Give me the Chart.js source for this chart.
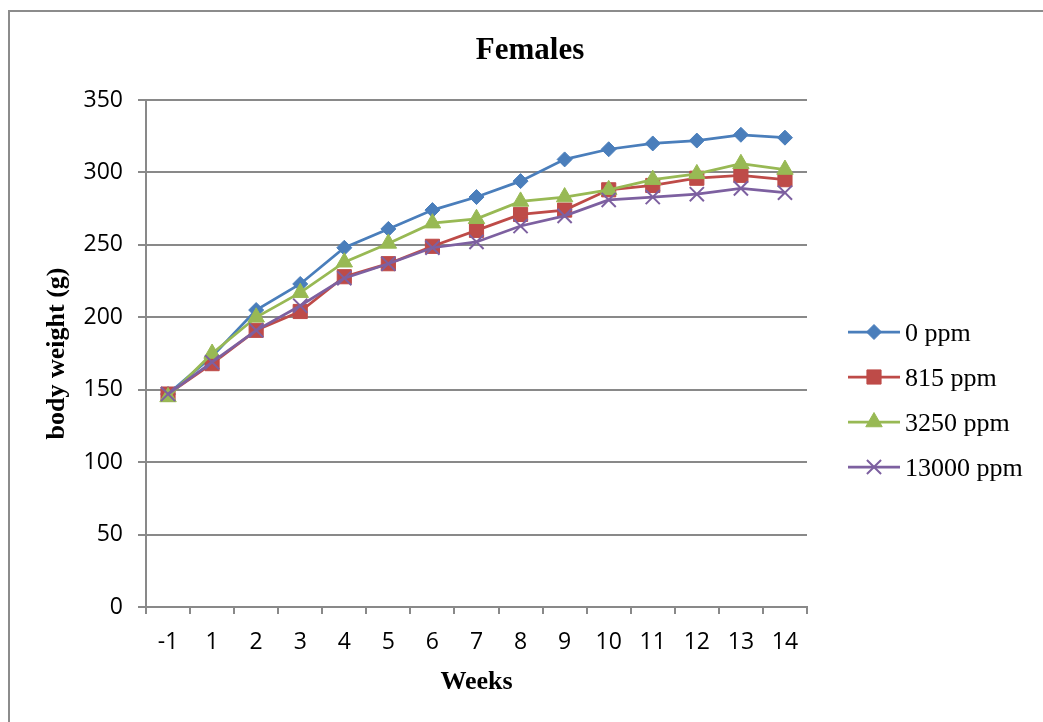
<!DOCTYPE html>
<html>
<head>
<meta charset="utf-8">
<script src="https://cdn.jsdelivr.net/npm/chart.js@4/dist/chart.umd.min.js"></script>
<style>
html,body{margin:0;padding:0;background:#fff;overflow:hidden;}
#wrap{position:absolute;left:0;top:0;width:1043px;height:722px;}
</style>
</head>
<body>
<div id="wrap"><canvas id="c" width="1043" height="722"></canvas></div>
<script>
const weeks = ['-1','1','2','3','4','5','6','7','8','9','10','11','12','13','14'];
const ppm0 = [147, 173, 205, 223, 248, 261, 274, 283, 294, 309, 316, 320, 322, 326, 324];
const ppm815 = [147, 168, 191, 204, 228, 237, 249, 260, 271, 274, 288, 291, 296, 298, 295];
const ppm3250 = [145, 175, 200, 217, 238, 251, 265, 268, 280, 283, 288, 295, 299, 306, 302];
const ppm13000 = [147, 169, 191, 208, 227, 237, 248, 252, 263, 270, 281, 283, 285, 289, 286];
const seriesNames = ['0 ppm', '815 ppm', '3250 ppm', '13000 ppm'];
const yTicks = [0, 50, 100, 150, 200, 250, 300, 350];
const chartTitle = 'Females';
const xTitle = 'Weeks';
const yTitle = 'body weight (g)';

const colors = ['#4a7ebb', '#be4b48', '#98b954', '#7d60a0'];
const styles = [
  {pointStyle:'rectRot', radius:7.5, borderWidth:1},
  {pointStyle:'rect', radius:10, borderWidth:1},
  {pointStyle:'triangle', radius:9.5, borderWidth:1},
  {pointStyle:'crossRot', radius:10, borderWidth:2}
];
const values = [ppm0, ppm815, ppm3250, ppm13000];
const GRID = '#898989';
const serif = '"Liberation Serif", "Times New Roman", serif';
const sans = '"Open Sans", "Noto Sans", sans-serif';

const datasets = values.map((v, i) => ({
  label: seriesNames[i],
  data: v,
  borderColor: colors[i],
  backgroundColor: colors[i],
  borderWidth: 2.75,
  pointStyle: styles[i].pointStyle,
  pointRadius: styles[i].radius,
  pointHoverRadius: styles[i].radius,
  pointBorderWidth: styles[i].borderWidth,
  pointBorderColor: colors[i],
  pointBackgroundColor: colors[i],
  tension: 0,
  order: 4 - i
}));

const framePlugin = {
  id: 'frame',
  beforeDraw(chart) {
    const ctx = chart.ctx;
    ctx.save();
    ctx.strokeStyle = '#8c8c8c';
    ctx.lineWidth = 2;
    ctx.beginPath();
    ctx.moveTo(9, 722);
    ctx.lineTo(9, 11);
    ctx.lineTo(1043, 11);
    ctx.stroke();
    ctx.restore();
  },
  afterDraw(chart) {
    const ctx = chart.ctx;
    ctx.save();
    ctx.fillStyle = '#000';
    ctx.font = 'bold 31px ' + serif;
    ctx.textAlign = 'center';
    ctx.textBaseline = 'alphabetic';
    ctx.fillText(chartTitle, 530, 59);
    const ys = [332, 377, 422, 467];
    chart.data.datasets.forEach((ds, i) => {
      const y = ys[i];
      ctx.strokeStyle = ds.borderColor;
      ctx.lineWidth = 2.75;
      ctx.beginPath();
      ctx.moveTo(848, y);
      ctx.lineTo(900, y);
      ctx.stroke();
      ctx.fillStyle = ds.pointBackgroundColor;
      ctx.strokeStyle = ds.pointBorderColor;
      ctx.lineWidth = ds.pointBorderWidth;
      Chart.helpers.drawPoint(ctx, {pointStyle: ds.pointStyle, radius: ds.pointRadius, rotation: 0, borderWidth: ds.pointBorderWidth}, 874, y);
      ctx.fillStyle = '#000';
      ctx.font = '26px ' + serif;
      ctx.textAlign = 'left';
      ctx.textBaseline = 'alphabetic';
      ctx.fillText(ds.label, 905, y + 9);
    });
    ctx.restore();
  }
};

new Chart(document.getElementById('c'), {
  type: 'line',
  data: { labels: weeks, datasets },
  options: {
    responsive: false,
    animation: false,
    devicePixelRatio: 1,
    layout: { padding: { top: 100, right: 236, left: 0, bottom: 0 } },
    plugins: { legend: { display: false }, title: { display: false }, tooltip: { enabled: false } },
    scales: {
      x: {
        type: 'category',
        offset: true,
        grid: { display: true, offset: true, drawOnChartArea: false, drawTicks: true, tickLength: 7, color: GRID, lineWidth: 2 },
        border: { display: true, color: GRID, width: 2 },
        ticks: { color: '#000', font: { family: sans, size: 23 }, padding: 15, maxRotation: 0, autoSkip: false },
        title: { display: true, text: xTitle, color: '#000', font: { family: serif, size: 26, weight: 'bold' }, padding: { top: 0, bottom: 24 } },
        afterFit(s) { s.height = 115; }
      },
      y: {
        min: 0, max: 350,
        afterBuildTicks(s) { s.ticks = yTicks.map(v => ({ value: v })); },
        grid: { display: true, drawOnChartArea: true, drawTicks: true, tickLength: 8, color: GRID, lineWidth: 2 },
        border: { display: true, color: GRID, width: 2 },
        ticks: { color: '#000', font: { family: sans, size: 23 }, padding: 15 },
        title: { display: true, text: yTitle, color: '#000', font: { family: serif, size: 26, weight: 'bold' }, padding: { top: 42, bottom: 0 } },
        afterFit(s) { s.width = 146; }
      }
    }
  },
  plugins: [framePlugin]
});
</script>
</body>
</html>
